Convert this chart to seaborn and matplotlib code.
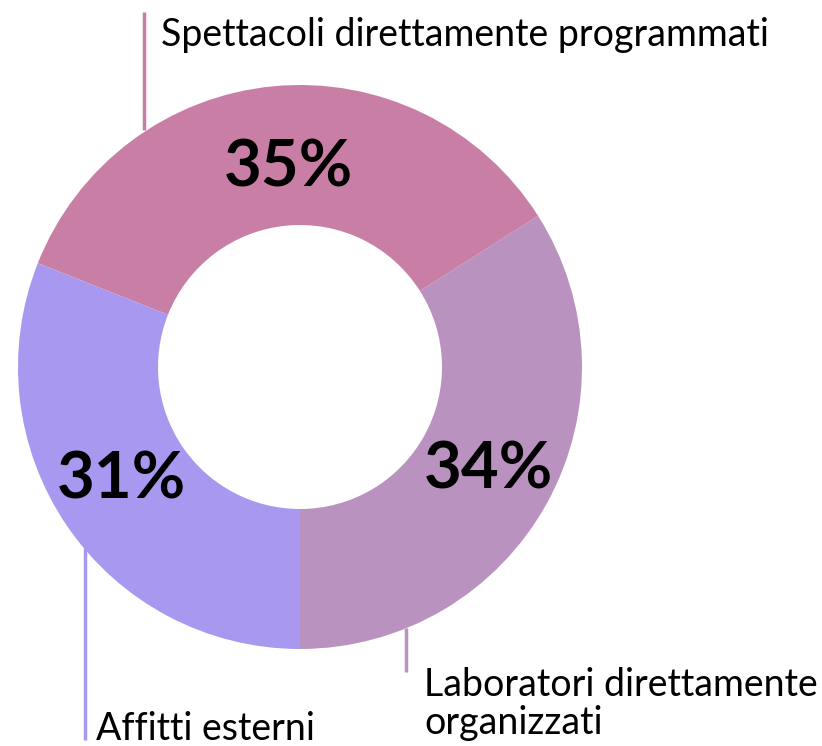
import matplotlib
matplotlib.use("Agg")
import matplotlib.pyplot as plt
import seaborn as sns

categories = ["Laboratori direttamente\norganizzati", "Spettacoli direttamente programmati", "Affitti esterni"]
shares = [34, 35, 31]
pct_labels = ["34%", "35%", "31%"]
colors = ["#BA92BF", "#C97FA5", "#A898F0"]


def main():
    sns.set_style("white")
    plt.rcParams['font.family'] = ['Lato', 'DejaVu Sans']

    fig = plt.figure(figsize=(8.22, 7.46), dpi=100)
    ax = fig.add_axes([0, 0, 1, 1])

    # donut centred at (300, 379) in pixel units, radius 282
    ax.pie(shares, colors=sns.color_palette(colors), startangle=-90,
           counterclock=True, center=(300, 379), radius=282,
           wedgeprops=dict(width=140, linewidth=0), frame=True)
    ax.set_xlim(0, 822)
    ax.set_ylim(0, 746)
    ax.set_aspect('equal')
    ax.axis('off')

    # percentage labels
    pct_pos = [(488, 276), (288, 578), (121, 266)]
    for (x, y), t in zip(pct_pos, pct_labels):
        ax.text(x, y, t, ha='center', va='center', fontsize=47,
                fontweight='bold', color='black')

    # leader lines and category labels
    ax.plot([144, 144], [616, 734], color=colors[1], lw=2.5, solid_capstyle='butt')
    ax.text(161, 711, categories[1], ha='left', va='center', fontsize=27,
            color='black')

    ax.plot([406, 406], [74, 118], color=colors[0], lw=2.5, solid_capstyle='butt')
    ax.text(424, 42, categories[0], ha='left', va='center', fontsize=27,
            color='black', linespacing=1.1)

    ax.plot([85, 85], [6, 198], color=colors[2], lw=2.5, solid_capstyle='butt')
    ax.text(96, 6, categories[2], ha='left', va='baseline', fontsize=27,
            color='black')

    fig.savefig("out.png", dpi=100)


if __name__ == "__main__":
    main()
